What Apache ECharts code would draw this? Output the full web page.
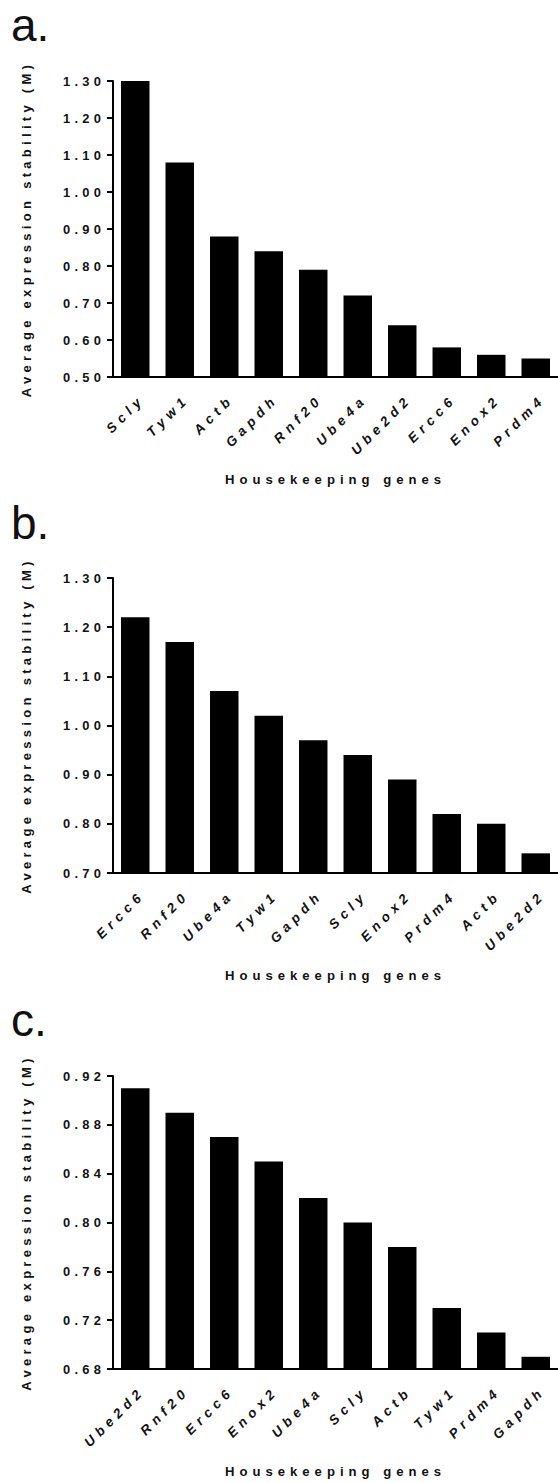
<!DOCTYPE html>
<html>
<head>
<meta charset="utf-8">
<script src="https://cdn.jsdelivr.net/npm/echarts@6/dist/echarts.min.js"></script>
<style>
  html, body { margin: 0; padding: 0; background: #fff; }
  #chart { width: 558px; height: 1483px; }
  #chart svg text { letter-spacing: 5px; }
  #chart svg text[style*="46px"] { letter-spacing: 0; }
  #chart svg text[style*="12.9px"] { letter-spacing: 4.2px; }
  #chart svg text[style*="13px"] { letter-spacing: 4.3px; }
  #chart svg text[style*="13.1px"] { letter-spacing: 5px; }
  #chart svg text[style*="13.5px"] { letter-spacing: 5px; }
</style>
</head>
<body>
<div id="chart"></div>
<script>
// Panel a
const categoriesA = ['Scly', 'Tyw1', 'Actb', 'Gapdh', 'Rnf20', 'Ube4a', 'Ube2d2', 'Ercc6', 'Enox2', 'Prdm4'];
const valuesA = [1.30, 1.08, 0.88, 0.84, 0.79, 0.72, 0.64, 0.58, 0.56, 0.55];
const ticksA = ['0.50', '0.60', '0.70', '0.80', '0.90', '1.00', '1.10', '1.20', '1.30'];

// Panel b
const categoriesB = ['Ercc6', 'Rnf20', 'Ube4a', 'Tyw1', 'Gapdh', 'Scly', 'Enox2', 'Prdm4', 'Actb', 'Ube2d2'];
const valuesB = [1.22, 1.17, 1.07, 1.02, 0.97, 0.94, 0.89, 0.82, 0.80, 0.74];
const ticksB = ['0.70', '0.80', '0.90', '1.00', '1.10', '1.20', '1.30'];

// Panel c
const categoriesC = ['Ube2d2', 'Rnf20', 'Ercc6', 'Enox2', 'Ube4a', 'Scly', 'Actb', 'Tyw1', 'Prdm4', 'Gapdh'];
const valuesC = [0.91, 0.89, 0.87, 0.85, 0.82, 0.80, 0.78, 0.73, 0.71, 0.69];
const ticksC = ['0.68', '0.72', '0.76', '0.80', '0.84', '0.88', '0.92'];

const panelLetters = ['a.', 'b.', 'c.'];
const yTitle = 'Average expression stability (M)';
const xTitle = 'Housekeeping genes';

const panels = [
  { cats: categoriesA, vals: valuesA, ticks: ticksA, top: 81, height: 296, letterTop: 2 },
  { cats: categoriesB, vals: valuesB, ticks: ticksB, top: 578, height: 295, letterTop: 500 },
  { cats: categoriesC, vals: valuesC, ticks: ticksC, top: 1076, height: 293, letterTop: 997 }
];

const FONT = 'Arial, "Liberation Sans", Helvetica, sans-serif';

const chart = echarts.init(document.getElementById('chart'), null, { renderer: 'svg' });

const option = {
  animation: false,
  backgroundColor: '#ffffff',
  grid: panels.map(p => ({ left: 113, right: 0, top: p.top, height: p.height, containLabel: false })),
  xAxis: panels.map((p, i) => ({
    type: 'category',
    gridIndex: i,
    data: p.cats,
    name: xTitle,
    nameLocation: 'middle',
    nameGap: 96,
    nameTextStyle: { fontFamily: FONT, fontWeight: 'bold', fontSize: 13.1, color: '#111' },
    axisLine: { onZero: false, lineStyle: { color: '#000', width: 2 } },
    axisTick: { alignWithLabel: true, length: 7, lineStyle: { color: '#000', width: 2 } },
    axisLabel: {
      rotate: 45, interval: 0, margin: 27,
      padding: [0, -10, 0, 0],
      fontFamily: FONT, fontWeight: 'bold', fontStyle: 'italic', fontSize: 13.5, color: '#111'
    },
    splitLine: { show: false }
  })),
  yAxis: panels.map((p, i) => {
    const t = p.ticks.map(Number);
    return {
      type: 'value',
      gridIndex: i,
      min: t[0],
      max: t[t.length - 1],
      interval: +(t[1] - t[0]).toFixed(4),
      name: yTitle,
      nameLocation: 'middle',
      nameGap: 80,
      nameTextStyle: { fontFamily: FONT, fontWeight: 'bold', fontSize: 13, color: '#111' },
      axisLine: { show: true, lineStyle: { color: '#000', width: 2 } },
      axisTick: { show: true, length: 6, lineStyle: { color: '#000', width: 2 } },
      axisLabel: {
        margin: 8,
        fontFamily: FONT, fontWeight: 'bold', fontSize: 12.9, color: '#111',
        formatter: v => {
          const idx = t.findIndex(x => Math.abs(x - v) < 1e-6);
          return idx >= 0 ? p.ticks[idx] : '';
        }
      },
      splitLine: { show: false }
    };
  }),
  graphic: panels.map((p, i) => ({
    type: 'text',
    left: 11,
    top: p.letterTop,
    style: { text: panelLetters[i], fontFamily: FONT, fontSize: 46, fill: '#111' }
  })),
  series: panels.map((p, i) => ({
    type: 'bar',
    xAxisIndex: i,
    yAxisIndex: i,
    data: p.vals,
    barWidth: '64%',
    itemStyle: { color: '#000' }
  }))
};

chart.setOption(option);
</script>
</body>
</html>
